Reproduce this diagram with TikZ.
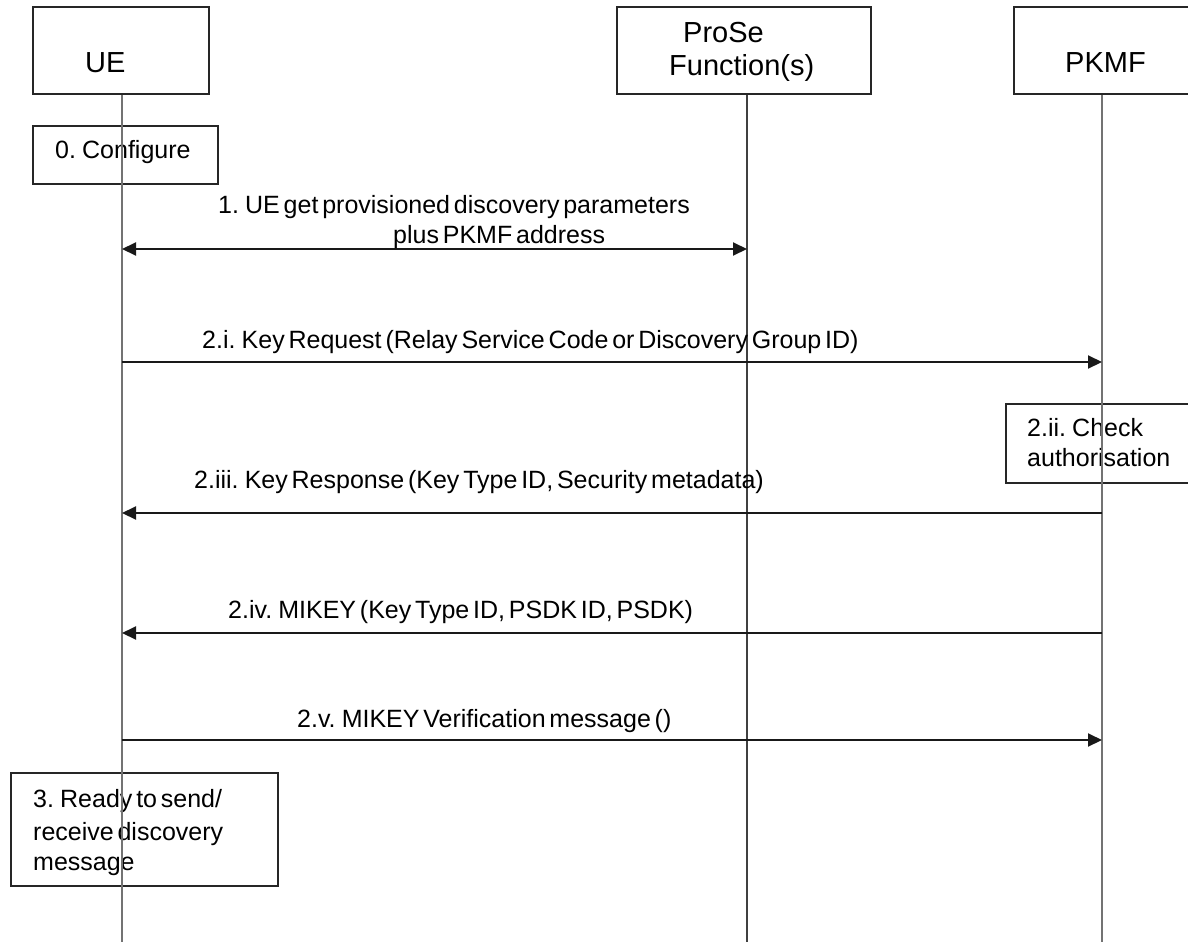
\documentclass[tikz,border=0pt]{standalone}
\usepackage{fontspec}
\setmainfont[WordSpace=0.55]{Liberation Sans}
\usetikzlibrary{arrows.meta}
\tikzset{
  boxshape/.style={draw=black!85, line width=2pt, rectangle, inner sep=0pt},
  life/.style={draw=black!55, line width=2.8pt},
  msg/.style={draw=black!90, line width=2pt, -{Triangle[length=14pt,width=13pt]}},
  bimsg/.style={draw=black!90, line width=2pt, {Triangle[length=14pt,width=13pt]}-{Triangle[length=14pt,width=13pt]}},
  lbl/.style={anchor=base west, inner sep=0pt, font=\fontsize{25}{30}\selectfont},
  head/.style={anchor=base west, inner sep=0pt, font=\fontsize{29}{34}\selectfont}
}
\begin{document}
\begin{tikzpicture}[x=1pt,y=-1pt]
\useasboundingbox (0,0) rectangle (1188,942);
\clip (0,0) rectangle (1188,942);
% lifeline boxes
\node[boxshape, minimum width=176pt, minimum height=87pt] (ue) at (121,50.5) {};
\node[boxshape, minimum width=254pt, minimum height=87pt] (prose) at (744,50.5) {};
\node[boxshape, minimum width=190pt, minimum height=87pt] (pkmf) at (1109,50.5) {};
\node[head] (uet) at (85,73) {UE};
\node[head] (proset1) at (683,43) {ProSe};
\node[head] (proset2) at (669,75) {Function(s)};
\node[head] (pkmft) at (1065,72) {PKMF};
% step boxes
\node[boxshape, minimum width=185pt, minimum height=58pt] (cfg) at (125.5,155) {};
\node[boxshape, minimum width=194pt, minimum height=79pt] (chk) at (1103,443.5) {};
\node[boxshape, minimum width=267pt, minimum height=113pt] (rdy) at (144.5,829.5) {};
\node[lbl] (cfgt) at (55,158) {0. Configure};
\node[lbl] (chkt1) at (1027,436) {2.ii. Check};
\node[lbl] (chkt2) at (1027,466) {authorisation};
\node[lbl] (rdyt1) at (33,807) {3. Ready to send/};
\node[lbl] (rdyt2) at (33,840) {receive discovery};
\node[lbl] (rdyt3) at (33,870) {message};
% lifelines
\coordinate (ueend) at (122,942);
\coordinate (proseend) at (747,942);
\coordinate (pkmfend) at (1102,942);
\draw[life] (ue.south -| ueend) -- (ueend);
\draw[life, draw=black!75] (prose.south -| proseend) -- (proseend);
\draw[life] (pkmf.south -| pkmfend) -- (pkmfend);
% message points
\coordinate (u1) at (122,249); \coordinate (p1) at (747,249);
\coordinate (u2) at (122,362); \coordinate (k2) at (1102,362);
\coordinate (u3) at (122,513); \coordinate (k3) at (1102,513);
\coordinate (u4) at (122,633); \coordinate (k4) at (1102,633);
\coordinate (u5) at (122,740); \coordinate (k5) at (1102,740);
\draw[bimsg] (u1) -- (p1);
\draw[msg] (u2) -- (k2);
\draw[msg] (k3) -- (u3);
\draw[msg] (k4) -- (u4);
\draw[msg] (u5) -- (k5);
% labels
\node[lbl] (m1a) at (218,213) {1. UE get provisioned discovery parameters};
\node[lbl] (m1b) at (393,243) {plus PKMF address};
\node[lbl] (m2) at (202,348) {2.i. Key Request (Relay Service Code or Discovery Group ID)};
\node[lbl] (m3) at (194,488) {2.iii. Key Response (Key Type ID, Security metadata)};
\node[lbl] (m4) at (228,618) {2.iv. MIKEY (Key Type ID, PSDK ID, PSDK)};
\node[lbl] (m5) at (297,727) {2.v. MIKEY Verification message ()};
\end{tikzpicture}
\end{document}
